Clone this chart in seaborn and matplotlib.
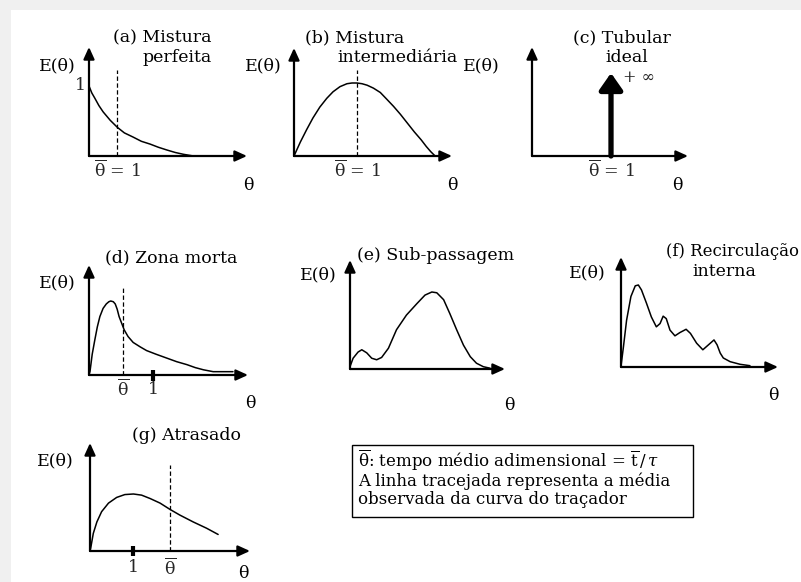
import matplotlib
matplotlib.use("Agg")
import matplotlib.pyplot as plt
from matplotlib.patches import Rectangle
import seaborn as sns

sns.set_theme(style="white")
plt.rcParams["font.family"] = ["DejaVu Serif"]
plt.rcParams["mathtext.fontset"] = "dejavuserif"

# ---- curve data (theta, E) for each residence-time distribution ----
theta_a = [0.0, 0.1, 0.2, 0.35, 0.5, 0.75, 1.0, 1.25, 1.56, 1.85, 2.16, 2.45, 2.75, 3.05, 3.34, 3.69]
E_a = [1.0, 0.9, 0.83, 0.72, 0.63, 0.51, 0.41, 0.33, 0.27, 0.21, 0.17, 0.125, 0.086, 0.05, 0.024, 0.0]

theta_b = [0.0, 0.1, 0.2, 0.3, 0.41, 0.52, 0.62, 0.73, 0.84, 0.92, 1.0, 1.08, 1.16, 1.26, 1.37, 1.47, 1.58, 1.69, 1.80, 1.91, 2.02, 2.10, 2.17, 2.24]
E_b = [0.0, 0.19, 0.36, 0.52, 0.67, 0.79, 0.88, 0.95, 0.99, 1.0, 1.0, 0.99, 0.97, 0.93, 0.87, 0.78, 0.68, 0.57, 0.45, 0.33, 0.22, 0.13, 0.06, 0.0]

spike_theta = 1.0
spike_height = 1.0

theta_d = [0.0, 0.016, 0.05, 0.09, 0.13, 0.17, 0.22, 0.27, 0.31, 0.34, 0.38, 0.41, 0.44, 0.47, 0.51, 0.55, 0.61, 0.69, 0.80, 0.90, 1.05, 1.21, 1.37, 1.53, 1.66, 1.79, 1.94, 2.25]
E_d = [0.0, 0.05, 0.28, 0.47, 0.65, 0.79, 0.90, 0.96, 0.99, 1.0, 0.99, 0.96, 0.89, 0.79, 0.70, 0.61, 0.52, 0.44, 0.38, 0.33, 0.28, 0.23, 0.18, 0.14, 0.10, 0.07, 0.045, 0.045]

theta_e = [0.0, 0.05, 0.13, 0.19, 0.27, 0.35, 0.43, 0.51, 0.62, 0.75, 0.91, 1.08, 1.21, 1.32, 1.40, 1.51, 1.61, 1.72, 1.83, 1.94, 2.04, 2.15, 2.26]
E_e = [0.03, 0.14, 0.22, 0.25, 0.21, 0.14, 0.12, 0.15, 0.27, 0.51, 0.70, 0.85, 0.96, 1.0, 0.99, 0.90, 0.72, 0.51, 0.31, 0.16, 0.075, 0.03, 0.01]

theta_f = [0.0, 0.04, 0.09, 0.16, 0.23, 0.28, 0.33, 0.41, 0.49, 0.57, 0.63, 0.68, 0.73, 0.79, 0.87, 0.95, 1.05, 1.12, 1.22, 1.32, 1.41, 1.50, 1.55, 1.60, 1.65, 1.76, 1.92, 2.08]
E_f = [0.01, 0.25, 0.57, 0.86, 0.99, 1.0, 0.94, 0.78, 0.61, 0.49, 0.53, 0.62, 0.59, 0.45, 0.38, 0.42, 0.46, 0.41, 0.29, 0.21, 0.27, 0.33, 0.27, 0.17, 0.11, 0.065, 0.033, 0.016]

theta_g = [0.0, 0.016, 0.077, 0.16, 0.27, 0.43, 0.62, 0.81, 1.01, 1.2, 1.4, 1.63, 1.86, 2.09, 2.40, 2.71, 2.98]
E_g = [0.0, 0.05, 0.31, 0.51, 0.69, 0.84, 0.94, 0.99, 1.0, 0.98, 0.92, 0.84, 0.73, 0.63, 0.51, 0.40, 0.29]

# mean residence time markers (theta_bar, height of the dashed line)
mean_a = (1.0, 1.23)
mean_b = (1.0, 1.18)
mean_d = (0.53, 1.18)
mean_g = (1.86, 1.51)
unit_tick = 1.0

THETA_BAR = r"$\overline{\mathrm{\theta}}$"

W, H = 801, 582
fig = plt.figure(figsize=(W / 100, H / 100), dpi=100)
fig.patch.set_facecolor("white")

FS = 12.5


def fx(px):
    return px / W


def fy(py):
    return 1 - py / H


def ftext(x, y, s, ha="center", size=FS, va="center", **kw):
    fig.text(fx(x), fy(y), s, ha=ha, va=va, fontsize=size, color="black", **kw)


def panel(ox, oy, xend, ytop, sx, sy):
    ax = fig.add_axes([fx(ox), fy(oy), (xend - ox) / W, (oy - ytop) / H])
    ax.set_xlim(0, (xend - ox) / sx)
    ax.set_ylim(0, (oy - ytop) / sy)
    ax.axis("off")
    arrow = dict(arrowstyle="-|>,head_length=0.55,head_width=0.25", lw=1.6,
                 color="black", mutation_scale=13, shrinkA=0, shrinkB=0)
    ax.annotate("", xy=(1, 0), xytext=(0, 0), xycoords="axes fraction",
                arrowprops=arrow, annotation_clip=False)
    ax.annotate("", xy=(0, 1), xytext=(0, 0), xycoords="axes fraction",
                arrowprops=arrow, annotation_clip=False)
    return ax


def curve(ax, x, y):
    sns.lineplot(x=x, y=y, ax=ax, color="black", lw=1.1, sort=False,
                 estimator=None, legend=False)
    for ln in ax.lines:
        ln.set_clip_on(False)
        ln.set_solid_joinstyle("round")


def mean_line(ax, m):
    ax.vlines(m[0], 0, m[1], colors="black", linestyles=(0, (3.5, 2.0)), lw=0.9)


def xlabel_at(ax, val, s, dy=14):
    ax.annotate(s, xy=(val, 0), xycoords=("data", "axes fraction"),
                xytext=(0, -dy), textcoords="offset pixels",
                ha="center", va="center", fontsize=FS, annotation_clip=False)


def tick_at(ax, val):
    trans = ax.get_xaxis_transform()
    ax.plot([val, val], [-0.05, 0.05], transform=trans, color="black",
            lw=3.0, solid_capstyle="butt", clip_on=False)


# light frame strips along the top and left edge
fig.patches.append(Rectangle((0, fy(10)), 1, 10 / H, transform=fig.transFigure,
                             facecolor="#f0f0f0", edgecolor="none", zorder=0))
fig.patches.append(Rectangle((0, 0), 11 / W, 1, transform=fig.transFigure,
                             facecolor="#f0f0f0", edgecolor="none", zorder=0))

# (a) Mistura perfeita
ax = panel(89, 156, 247, 47, 28.3, 70)
curve(ax, theta_a, E_a)
mean_line(ax, mean_a)
xlabel_at(ax, mean_a[0], THETA_BAR + " = 1")
ax.annotate("1", xy=(0, 1.0), xytext=(-3, 0), textcoords="offset pixels",
            ha="right", va="center", fontsize=FS, annotation_clip=False)
ftext(57, 66, "E(θ)")
ftext(248, 185, "θ")
ftext(212, 38, "(a) Mistura", ha="right")
ftext(212, 57, "perfeita", ha="right")

# (b) Mistura intermediária
ax = panel(294, 156, 452, 48, 63, 73)
curve(ax, theta_b, E_b)
mean_line(ax, mean_b)
xlabel_at(ax, mean_b[0], THETA_BAR + " = 1")
ftext(263, 66, "E(θ)")
ftext(452, 185, "θ")
ftext(305, 38, "(b) Mistura", ha="left")
ftext(337, 57, "intermediária", ha="left")

# (c) Tubular ideal
ax = panel(532, 156, 688, 47, 79, 83)
ax.annotate("", xy=(spike_theta, spike_height), xytext=(spike_theta, 0),
            arrowprops=dict(arrowstyle="-|>,head_length=0.5,head_width=0.35",
                            lw=3.8, color="black", mutation_scale=20,
                            shrinkA=0, shrinkB=0), annotation_clip=False)
ax.annotate("+ ∞", xy=(spike_theta, spike_height), xytext=(12, -4),
            textcoords="offset pixels", ha="left", va="center", fontsize=FS - 1)
xlabel_at(ax, spike_theta, THETA_BAR + " = 1")
ftext(481, 66, "E(θ)")
ftext(677, 185, "θ")
ftext(622, 38, "(c) Tubular")
ftext(627, 57, "ideal")

# (d) Zona morta
ax = panel(89, 375, 248, 265, 64, 74)
curve(ax, theta_d, E_d)
mean_line(ax, mean_d)
tick_at(ax, unit_tick)
xlabel_at(ax, mean_d[0], THETA_BAR, dy=14)
xlabel_at(ax, unit_tick, "1", dy=14)
ftext(57, 283, "E(θ)")
ftext(250, 403, "θ")
ftext(171, 258, "(d) Zona morta")

# (e) Sub-passagem
ax = panel(350, 369, 505, 260, 62, 77)
curve(ax, theta_e, E_e)
ftext(318, 275, "E(θ)")
ftext(509, 406, "θ")
ftext(436, 255, "(e) Sub-passagem")

# (f) Recirculação interna
ax = panel(621, 367, 778, 257, 62, 82)
curve(ax, theta_f, E_f)
ftext(587, 273, "E(θ)")
ftext(773, 395, "θ")
ftext(799, 251, "(f) Recirculação", ha="right", size=FS - 0.6)
ftext(692, 272, "interna", ha="left")

# (g) Atrasado
ax = panel(90, 551, 250, 443, 43, 57)
curve(ax, theta_g, E_g)
mean_line(ax, mean_g)
tick_at(ax, unit_tick)
xlabel_at(ax, unit_tick, "1", dy=17)
xlabel_at(ax, mean_g[0], THETA_BAR, dy=17)
ftext(55, 461, "E(θ)")
ftext(243, 574, "θ")
ftext(186, 435, "(g) Atrasado")

# legend box
fig.patches.append(Rectangle((fx(352), fy(517)), (693 - 352) / W, (517 - 445) / H,
                             transform=fig.transFigure, facecolor="white",
                             edgecolor="black", lw=1.0, zorder=1))
BOX_FS = 12.0
ftext(358, 467, THETA_BAR + r": tempo médio adimensional = $\overline{\mathrm{t}}\,/\,\tau$",
      ha="left", size=BOX_FS, va="baseline")
ftext(358, 485.5, "A linha tracejada representa a média", ha="left", size=BOX_FS,
      va="baseline")
ftext(358, 503.5, "observada da curva do traçador", ha="left", size=BOX_FS,
      va="baseline")

fig.savefig("out.png", dpi=100)
